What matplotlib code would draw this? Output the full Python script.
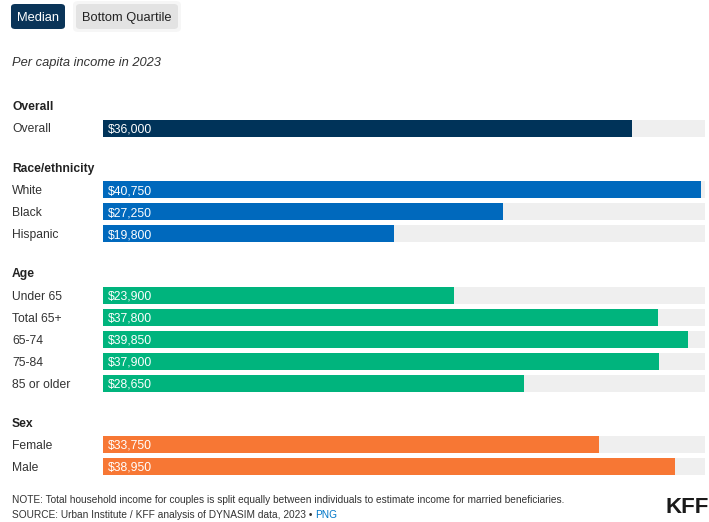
import matplotlib.pyplot as plt
import matplotlib.transforms as mtransforms
from matplotlib.patches import FancyBboxPatch

plt.rcParams['font.family'] = ['Liberation Sans', 'DejaVu Sans']

# data
groups = ["Overall", "Race/ethnicity", "Age", "Sex"]
overall_labels = ["Overall"]
overall_values = [36000]
race_labels = ["White", "Black", "Hispanic"]
race_values = [40750, 27250, 19800]
age_labels = ["Under 65", "Total 65+", "65-74", "75-84", "85 or older"]
age_values = [23900, 37800, 39850, 37900, 28650]
sex_labels = ["Female", "Male"]
sex_values = [33750, 38950]

group_rows = [(overall_labels, overall_values), (race_labels, race_values),
              (age_labels, age_values), (sex_labels, sex_values)]
colors = ["#003359", "#0069bd", "#00b47d", "#f77734"]
track_max = 41000

W, H = 709, 522
fig = plt.figure(figsize=(W / 100, H / 100), dpi=100)
ax = fig.add_axes([103 / W, 0, 602 / W, 1])
ax.set_xlim(0, track_max)
ax.set_ylim(H, 0)
ax.axis("off")

# x in figure pixels, y in axes data (pixels from the top)
def px(x):
    return x / W
tr = mtransforms.blended_transform_factory(fig.transFigure, ax.transData)

pitch = 22
bar_h = 17
y = 106  # first header
for gi, (name, (labels, values)) in enumerate(zip(groups, group_rows)):
    ax.text(px(12), y + 4.5, name, transform=tr, fontsize=8.7, fontweight="bold",
            color="#222222", va="baseline", ha="left")
    yy = y + 22
    for lab, val in zip(labels, values):
        ax.barh(yy, track_max, height=bar_h, color="#efefef", left=0)
        ax.barh(yy, val, height=bar_h, color=colors[gi], left=0)
        ax.text(px(12), yy + 4.5, lab, transform=tr, fontsize=8.7, color="#333333",
                va="baseline", ha="left")
        ax.text(px(108), yy + 4.5, "${:,}".format(val), transform=tr, fontsize=8.7,
                color="white", va="baseline", ha="left")
        yy += pitch
    y = yy - pitch + 39.5

# buttons
def button(x0, x1, text, fc, tc, shadow=False):
    if shadow:
        s = FancyBboxPatch((px(x0 - 3), 1 - 32 / H), px(x1 - x0 + 6), 31 / H,
                           boxstyle="round,pad=0,rounding_size=0.008",
                           transform=fig.transFigure, fc="#f6f6f6", ec="none")
        fig.patches.append(s)
    p = FancyBboxPatch((px(x0), 1 - 29 / H), px(x1 - x0), 25 / H,
                       boxstyle="round,pad=0,rounding_size=0.006",
                       transform=fig.transFigure, fc=fc, ec="none")
    fig.patches.append(p)
    fig.text(px((x0 + x1) / 2), 1 - 21 / H, text, fontsize=9.3, color=tc,
             ha="center", va="baseline")

button(11, 65, "Median", "#0a3458", "white")
button(76, 178, "Bottom Quartile", "#e3e3e3", "#222222", shadow=True)

fig.text(px(12), 1 - 66 / H, "Per capita income in 2023", fontsize=9.3,
         style="italic", color="#333333", va="baseline")

fig.text(px(12), 1 - 503 / H,
         "NOTE: Total household income for couples is split equally between individuals to estimate income for married beneficiaries.",
         fontsize=7.3, color="#333333", va="baseline")
src = fig.text(px(12), 1 - 518 / H,
               "SOURCE: Urban Institute / KFF analysis of DYNASIM data, 2023 \u2022 ",
               fontsize=7.3, color="#333333", va="baseline")
fig.canvas.draw()
bb = src.get_window_extent()
fig.text(bb.x1 / W, 1 - 518 / H, "PNG", fontsize=7.3, color="#0077c8", va="baseline")
fig.text(px(709), 1 - 513 / H, "KFF", fontsize=16, fontweight="bold",
         color="#1a1a1a", va="baseline", ha="right")

fig.savefig("out.png", dpi=100)
